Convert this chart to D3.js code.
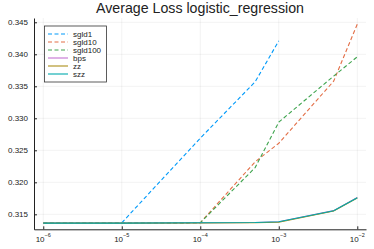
<!DOCTYPE html>
<html>
<head>
<meta charset="utf-8">
<script src="https://cdn.jsdelivr.net/npm/d3@7"></script>
<style>
  body { margin: 0; background: #fff; }
  svg { display: block; font-family: "Liberation Sans", Arial, sans-serif; }
</style>
</head>
<body>
<div id="chart"></div>
<script>
// step sizes on the x axis
const steps = [1e-6, 1e-5, 1e-4, 5e-4, 1e-3, 5e-3, 1e-2]
// average loss per method (null = no value)
const sgld1   = [0.31362, 0.31368, 0.3269, 0.3357, 0.3421, null, null]
const sgld10  = [0.31362, 0.31362, 0.31368, 0.3232, 0.3261, 0.3358, 0.3447]
const sgld100 = [0.31362, 0.31362, 0.31368, 0.3223, 0.3294, 0.3366, 0.3396]
const bps     = [0.31362, 0.31362, 0.31368, 0.31372, 0.31385, 0.31558, 0.31762]
const zz      = [0.31362, 0.31362, 0.31365, 0.31368, 0.31375, 0.31552, 0.31755]
const szz     = [0.31362, 0.31362, 0.31368, 0.31372, 0.31384, 0.31556, 0.31760]
const names  = ['sgld1', 'sgld10', 'sgld100', 'bps', 'zz', 'szz']
const series = [sgld1, sgld10, sgld100, bps, zz, szz]
const colors = ['#009AFA', '#E36F47', '#3EA44E', '#C371D2', '#AC8E18', '#00AAAE']
const dashed = [true, true, true, false, false, false]
const yTicks = [0.315, 0.320, 0.325, 0.330, 0.335, 0.340, 0.345]
const xTicks = [-6, -5, -4, -3, -2]

const svg_width = 374, svg_height = 249
const plot_left = 34, plot_right = 366, plot_top = 18, plot_bottom = 229.3

const svg = d3.select('#chart').append('svg')
    .attr('width', svg_width).attr('height', svg_height)

const x = d3.scaleLog().domain([Math.pow(10, -6.118), Math.pow(10, -1.889)]).range([plot_left, plot_right])
const y = d3.scaleLinear().domain([0.31266, 0.34567]).range([plot_bottom, plot_top])

// grid
svg.append('g').selectAll('line').data(yTicks).join('line')
    .attr('x1', plot_left).attr('x2', plot_right)
    .attr('y1', d => y(d)).attr('y2', d => y(d))
    .attr('stroke', '#000').attr('stroke-opacity', 0.1).attr('stroke-width', 0.5)
svg.append('g').selectAll('line').data(xTicks).join('line')
    .attr('x1', d => x(Math.pow(10, d))).attr('x2', d => x(Math.pow(10, d)))
    .attr('y1', plot_top).attr('y2', plot_bottom)
    .attr('stroke', '#000').attr('stroke-opacity', 0.1).attr('stroke-width', 0.5)

// axes
const yAxis = svg.append('g').attr('transform', `translate(${plot_left},0)`)
    .call(d3.axisLeft(y).tickValues(yTicks).tickFormat(d3.format('.3f')).tickSizeInner(-3).tickSizeOuter(0).tickPadding(6))
const xAxis = svg.append('g').attr('transform', `translate(0,${plot_bottom})`)
    .call(d3.axisBottom(x).tickValues(xTicks.map(d => Math.pow(10, d))).tickFormat('').tickSizeInner(-3).tickSizeOuter(0))
for (const ax of [yAxis, xAxis]) {
    ax.select('.domain').attr('stroke', '#222').attr('stroke-width', 1)
    ax.selectAll('.tick line').attr('stroke', '#222')
}
yAxis.selectAll('.tick text').attr('font-size', 8).attr('fill', '#222')
    .attr('font-family', '"Liberation Sans", Arial, sans-serif')

// x tick labels with superscript exponent
const xl = svg.append('g').selectAll('text').data(xTicks).join('text')
    .attr('x', d => x(Math.pow(10, d)))
    .attr('y', 241.5)
    .attr('text-anchor', 'middle')
    .attr('font-size', 8).attr('fill', '#222')
xl.append('tspan').text('10')
xl.append('tspan').text(d => '\u2212' + Math.abs(d))
    .attr('font-size', 5.5).attr('dy', -4.5)

// lines
const line = d3.line()
    .defined(d => d[1] != null)
    .x(d => x(d[0])).y(d => y(d[1]))
series.forEach((s, i) => {
    const start = i === 0 ? 1 : 0
    const pts = steps.map((st, j) => [st, s[j]]).slice(start)
    svg.append('path').datum(pts)
        .attr('d', line)
        .attr('fill', 'none')
        .attr('stroke', colors[i])
        .attr('stroke-width', 1.1)
        .attr('stroke-dasharray', dashed[i] ? '4,2.5' : null)
})

// legend
const lg = svg.append('g')
lg.append('rect').attr('x', 44.5).attr('y', 26).attr('width', 62).attr('height', 56)
    .attr('fill', '#fff').attr('stroke', '#333').attr('stroke-width', 0.8)
names.forEach((n, i) => {
    const ly = 34 + i * 8
    lg.append('line').attr('x1', 48).attr('x2', 68).attr('y1', ly).attr('y2', ly)
        .attr('stroke', colors[i]).attr('stroke-width', 1.1)
        .attr('stroke-dasharray', dashed[i] ? '4,2.5' : null)
    lg.append('text').attr('x', 73).attr('y', ly + 2.8).text(n)
        .attr('font-size', 8).attr('fill', '#222')
})

// title
svg.append('text').attr('x', (plot_left + plot_right) / 2).attr('y', 12.5)
    .attr('text-anchor', 'middle').attr('font-size', 14.2).attr('fill', '#222')
    .text('Average Loss logistic_regression')
</script>
</body>
</html>
